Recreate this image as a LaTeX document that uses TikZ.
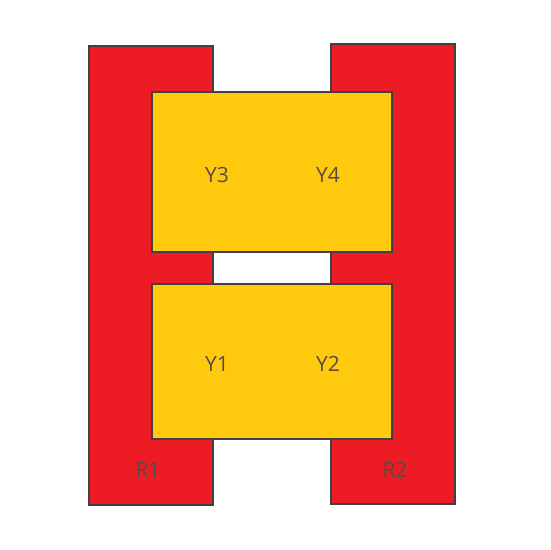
\documentclass[tikz,border=0pt]{standalone}
\usepackage{fontspec}
\setmainfont{Open Sans}
\definecolor{redfill}{HTML}{ED1C24}
\definecolor{yellowfill}{HTML}{FFC90E}
\definecolor{edge}{HTML}{404040}
\definecolor{labeltext}{HTML}{5A4848}
\begin{document}
\begin{tikzpicture}[x=1pt,y=-1pt,
  redbox/.style={fill=redfill,draw=edge,line width=2pt},
  yellowbox/.style={fill=yellowfill,draw=edge,line width=2pt},
  lbl/.style={text=labeltext,font=\fontsize{21}{24}\selectfont,inner sep=0pt}]
\useasboundingbox (0,0) rectangle (550,550);
% red pillars
\draw[redbox] (89,46) rectangle (213,505);
\draw[redbox] (331,44) rectangle (455,504);
% yellow blocks
\draw[yellowbox] (152,92) rectangle (392,252);
\draw[yellowbox] (152,284) rectangle (392,439);
% labels
\node[lbl] (y3) at (217,175) {Y3};
\node[lbl] (y4) at (328,175) {Y4};
\node[lbl] (y1) at (217,364) {Y1};
\node[lbl] (y2) at (328,364) {Y2};
\node[lbl] (r1) at (148,470) {R1};
\node[lbl] (r2) at (395,470) {R2};
\end{tikzpicture}
\end{document}
